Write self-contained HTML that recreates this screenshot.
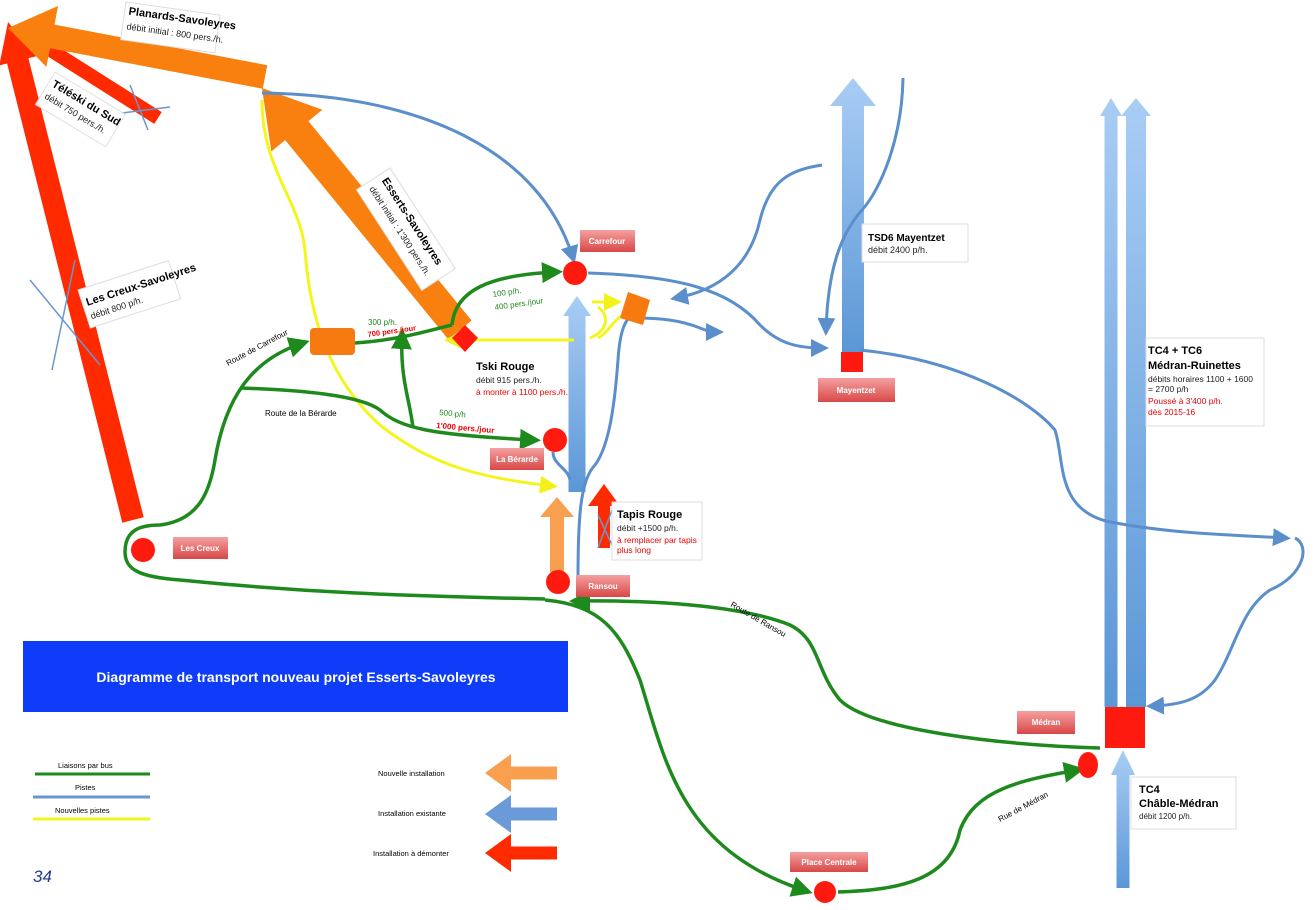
<!DOCTYPE html>
<html><head><meta charset="utf-8"><style>
html,body{margin:0;padding:0;background:#fff}
svg{display:block;font-family:"Liberation Sans",sans-serif}
.lb{fill:url(#lg)}
</style></head><body>
<svg id="s" width="1316" height="910" viewBox="0 0 1316 910" xmlns="http://www.w3.org/2000/svg">
<defs>
<linearGradient id="bg" x1="0" y1="0" x2="0" y2="1"><stop offset="0" stop-color="#a9cdf5"/><stop offset="1" stop-color="#5b97d6"/></linearGradient>
<linearGradient id="lg" x1="0" y1="0" x2="0" y2="1"><stop offset="0" stop-color="#f4a0a0"/><stop offset="1" stop-color="#d94848"/></linearGradient>
<marker id="ag" markerWidth="6" markerHeight="6" refX="4" refY="3" orient="auto" markerUnits="strokeWidth"><path d="M0,0 L6,3 L0,6 z" fill="#1e8a1e"/></marker>
<marker id="ab" markerWidth="6" markerHeight="6" refX="4" refY="3" orient="auto" markerUnits="strokeWidth"><path d="M0,0 L6,3 L0,6 z" fill="#5b8fcc"/></marker>
<marker id="ay" markerWidth="6" markerHeight="6" refX="4" refY="3" orient="auto" markerUnits="strokeWidth"><path d="M0,0 L6,3 L0,6 z" fill="#f2f21a"/></marker>
</defs>
<g id="arrows"></g>

<g fill="none" stroke="#f5f51e" stroke-width="3">
<path d="M262,100 C262,170 300,200 305,250 C310,320 330,380 380,425 C430,465 480,478 552,486" marker-end="url(#ay)"/>
<path d="M574,340 L450,340" marker-end="url(#ay)"/>
<path d="M592,302 L616,302" marker-end="url(#ay)"/>
<path d="M598,307 C612,318 605,332 590,338" />
<path d="M630,312 C612,318 612,330 598,338" />
</g>

<g fill="none" stroke="#5b8fcc" stroke-width="3">
<path d="M262,93 C420,95 540,150 573,258" marker-end="url(#ab)"/>
<path d="M588,273 C680,276 730,290 760,325 C780,345 800,348 823,348" marker-end="url(#ab)"/>
<path d="M903,78 C902,140 880,190 862,210 C840,235 828,270 826,330" marker-end="url(#ab)"/>
<path d="M822,165 C790,170 770,180 760,220 C750,265 720,290 676,298" marker-end="url(#ab)"/>
<path d="M634,318 C660,318 680,320 700,328 C710,332 712,332 718,332" marker-end="url(#ab)"/>
<path d="M860,350 C960,360 1030,400 1055,430 C1065,460 1055,510 1110,522 C1180,535 1240,535 1285,538" marker-end="url(#ab)"/>
<path d="M1295,538 C1310,545 1305,575 1270,590 C1240,610 1235,650 1215,680 C1200,700 1180,705 1152,706" marker-end="url(#ab)"/>
<path d="M578,578 C578,520 580,480 595,465 C610,445 615,400 618,360 C620,330 625,318 636,312"/>
<path d="M553,452 C553,465 568,468 570,480"/>
</g>

<g fill="none" stroke="#1e8a1e" stroke-width="3.5">
<path d="M545,599 C400,596 300,592 180,580 C140,577 125,570 125,552 C125,530 140,525 160,525 C200,520 210,490 215,460 C225,400 250,360 303,343" marker-end="url(#ag)"/>
<path d="M240,388 C300,390 360,395 380,410 C400,428 430,435 534,440" marker-end="url(#ag)"/>
<path d="M355,343 C400,340 430,330 452,325" />
<path d="M452,325 C455,290 490,275 556,272" marker-end="url(#ag)"/>
<path d="M413,428 C410,400 400,380 402,335" marker-end="url(#ag)"/>
<path d="M1100,748 C1000,745 870,730 840,700 C815,670 820,640 790,625 C740,605 650,600 576,601" marker-end="url(#ag)"/>
<path d="M545,600 C600,605 620,630 640,680 C665,760 680,850 806,891" marker-end="url(#ag)"/>
<path d="M838,892 C900,890 950,880 960,830 C975,790 1020,780 1078,770" marker-end="url(#ag)"/>
</g>

<g stroke="#6a96cf" stroke-width="1.5">
<line x1="130" y1="85" x2="148" y2="130"/><line x1="122" y1="113" x2="170" y2="107"/>
<line x1="75" y1="260" x2="52" y2="370"/><line x1="30" y1="280" x2="100" y2="365"/>
<line x1="598" y1="515" x2="612" y2="545"/><line x1="612" y1="510" x2="598" y2="548"/>
</g>

<g fill="#ff1a10">
<circle cx="575" cy="273" r="12"/>
<circle cx="555" cy="440" r="12"/>
<circle cx="558" cy="582" r="12"/>
<circle cx="143" cy="550" r="12"/>
<circle cx="825" cy="892" r="11"/>
<ellipse cx="1088" cy="765" rx="10" ry="13"/>
<rect x="1105" y="707" width="40" height="41"/>
<rect x="841" y="352" width="22" height="20"/>
<polygon points="465,325 478,338 465,352 452,338"/>
</g>
<g fill="#f77a10">
<rect x="310" y="328" width="45" height="27" rx="4"/>
<polygon points="628,292 650,300 643,325 620,318"/>
</g>

<g font-size="8" font-weight="bold" fill="#fff" text-anchor="middle">
<rect x="580" y="230" width="55" height="22" class="lb"/><text x="607" y="244">Carrefour</text>
<rect x="490" y="448" width="54" height="22" class="lb"/><text x="517" y="462">La Bérarde</text>
<rect x="576" y="575" width="54" height="22" class="lb"/><text x="603" y="589">Ransou</text>
<rect x="173" y="537" width="55" height="22" class="lb"/><text x="200" y="551">Les Creux</text>
<rect x="790" y="852" width="78" height="20" class="lb"/><text x="829" y="865">Place Centrale</text>
<rect x="1017" y="711" width="58" height="23" class="lb"/><text x="1046" y="725">Médran</text>
<rect x="818" y="378" width="77" height="24" class="lb"/><text x="856" y="393">Mayentzet</text>
</g>

<g font-size="9" fill="#222">
<g transform="translate(126,2) rotate(8)"><rect width="95" height="38" fill="#fff" stroke="#ddd"/><text x="4" y="12" font-size="11" font-weight="bold" fill="#000">Planards-Savoleyres</text><text x="4" y="27">débit initial  : 800 pers./h.</text></g>
<g transform="translate(55,72) rotate(31)"><rect width="82" height="38" fill="#fff" stroke="#ddd" opacity="0.9"/><text x="4" y="14" font-size="11" font-weight="bold" fill="#000">Téléski du Sud</text><text x="4" y="28">débit 750 pers./h.</text></g>
<g transform="translate(390,168) rotate(57)"><rect width="120" height="40" fill="#fff" stroke="#ddd"/><text x="6" y="14" font-size="11" font-weight="bold" fill="#000">Esserts-Savoleyres</text><text x="6" y="29">débit initial : 1'300 pers./h.</text></g>
<g transform="translate(78,290) rotate(-18)"><rect width="95" height="40" fill="#fff" stroke="#ddd"/><text x="4" y="18" font-size="11" font-weight="bold" fill="#000">Les Creux-Savoleyres</text><text x="4" y="32">débit      800 p/h.</text></g>
<g transform="translate(862,224)"><rect width="106" height="38" fill="#fff" stroke="#ddd"/><text x="6" y="17" font-size="10" font-weight="bold" fill="#000">TSD6 Mayentzet</text><text x="6" y="29">débit     2400 p/h.</text></g>
<g transform="translate(1146,338)"><rect width="118" height="88" fill="#fff" stroke="#ddd"/><text x="2" y="16" font-size="11" font-weight="bold" fill="#000">TC4 + TC6</text><text x="2" y="31" font-size="11" font-weight="bold" fill="#000">Médran-Ruinettes</text><text x="2" y="44" font-size="8.5">débits horaires  1100 + 1600</text><text x="2" y="54" font-size="8.5">= 2700 p/h</text><text x="2" y="66" font-size="8.5" fill="#e00">Poussé à 3'400 p/h.</text><text x="2" y="77" font-size="8.5" fill="#e00">dès 2015-16</text></g>
<g transform="translate(1131,777)"><rect width="105" height="52" fill="#fff" stroke="#ddd"/><text x="8" y="16" font-size="11" font-weight="bold" fill="#000">TC4</text><text x="8" y="30" font-size="11" font-weight="bold" fill="#000">Châble-Médran</text><text x="8" y="42" font-size="8">débit     1200 p/h.</text></g>
<g transform="translate(612,502)"><rect width="90" height="58" fill="#fff" stroke="#ddd"/><text x="5" y="16" font-size="11" font-weight="bold" fill="#000">Tapis Rouge</text><text x="5" y="29" font-size="8.5">débit      +1500 p/h.</text><text x="5" y="41" font-size="8.5" fill="#e00">à remplacer par tapis</text><text x="5" y="51" font-size="8.5" fill="#e00">plus long</text></g>
<text x="476" y="370" font-size="11" font-weight="bold" fill="#000">Tski Rouge</text>
<text x="476" y="383" font-size="8.5">débit     915 pers./h.</text>
<text x="476" y="395" font-size="8.5" fill="#e00">à monter à 1100 pers./h.</text>
</g>

<g font-size="8" fill="#000">
<text transform="translate(228,366) rotate(-28)">Route de Carrefour</text>
<text x="265" y="416">Route de la Bérarde</text>
<text transform="translate(730,606) rotate(30)">Route de Ransou</text>
<text transform="translate(1000,822) rotate(-28)">Rue de Médran</text>
<text x="368" y="325" fill="#1e8a1e">300 p/h.</text>
<text transform="translate(368,337) rotate(-8)" fill="#e00" font-weight="bold" font-size="7.5">700 pers./jour</text>
<text transform="translate(493,297) rotate(-8)" fill="#1e8a1e">100 p/h.</text>
<text transform="translate(495,310) rotate(-8)" fill="#1e8a1e">400 pers./jour</text>
<text transform="translate(439,415) rotate(5)" fill="#1e8a1e">500 p/h</text>
<text transform="translate(436,428) rotate(5)" fill="#e00" font-weight="bold">1'000 pers./jour</text>
</g>

<rect x="23" y="641" width="545" height="71" fill="#0f3cf8"/>
<text x="296" y="682" font-size="14" font-weight="bold" fill="#fff" text-anchor="middle">Diagramme de transport nouveau projet Esserts-Savoleyres</text>

<g font-size="7.5" fill="#000">
<text x="58" y="768">Liaisons par bus</text>
<line x1="35" y1="774" x2="150" y2="774" stroke="#1e8a1e" stroke-width="3"/>
<text x="75" y="790">Pistes</text>
<line x1="33" y1="797" x2="150" y2="797" stroke="#6a96cf" stroke-width="3"/>
<text x="55" y="813">Nouvelles pistes</text>
<line x1="33" y1="819" x2="150" y2="819" stroke="#f5f51e" stroke-width="3"/>
<text x="378" y="776">Nouvelle installation</text>
<text x="378" y="816">Installation existante</text>
<text x="373" y="856">Installation à démonter</text>
</g>
<text x="33" y="882" font-size="17" font-style="italic" fill="#223a8a">34</text>
</svg>
<script>
function arrow(x1,y1,x2,y2,sw,hw,hl,col){
 var dx=x2-x1,dy=y2-y1,L=Math.hypot(dx,dy),ux=dx/L,uy=dy/L,nx=-uy,ny=ux;
 var bx=x2-ux*hl,by=y2-uy*hl;
 var p=[[x1+nx*sw/2,y1+ny*sw/2],[bx+nx*sw/2,by+ny*sw/2],[bx+nx*hw/2,by+ny*hw/2],[x2,y2],[bx-nx*hw/2,by-ny*hw/2],[bx-nx*sw/2,by-ny*sw/2],[x1-nx*sw/2,y1-ny*sw/2]];
 if(!hw){p=[p[0],[x2+nx*sw/2,y2+ny*sw/2],[x2-nx*sw/2,y2-ny*sw/2],p[6]];}
 var e=document.createElementNS("http://www.w3.org/2000/svg","polygon");
 e.setAttribute("points",p.map(function(q){return q[0].toFixed(1)+","+q[1].toFixed(1)}).join(" "));
 e.setAttribute("fill",col);document.getElementById("arrows").appendChild(e);
}
arrow(133,520,8,22,22,38,40,"#ff2a00");
arrow(158,118,38,42,14,0,0,"#ff2a00");
arrow(265,77,8,28,24,62,45,"#f9800f");
arrow(460,330,262,88,30,66,55,"#f9800f");
arrow(577,492,577,296,17,28,20,"url(#bg)");
arrow(853,352,853,78,22,46,28,"url(#bg)");
arrow(1111,707,1111,98,13,22,18,"url(#bg)");
arrow(1136,707,1136,98,20,30,18,"url(#bg)");
arrow(1123,888,1123,750,13,24,25,"url(#bg)");
arrow(557,572,557,497,14,34,20,"#f9a050");
arrow(604,548,604,484,12,32,22,"#ff2a00");
arrow(557,773,485,773,13,38,26,"#f9a050");
arrow(557,814,485,814,13,38,26,"#6a9ad8");
arrow(557,853,485,853,13,38,26,"#ff2a00");
</script>
</body></html>
